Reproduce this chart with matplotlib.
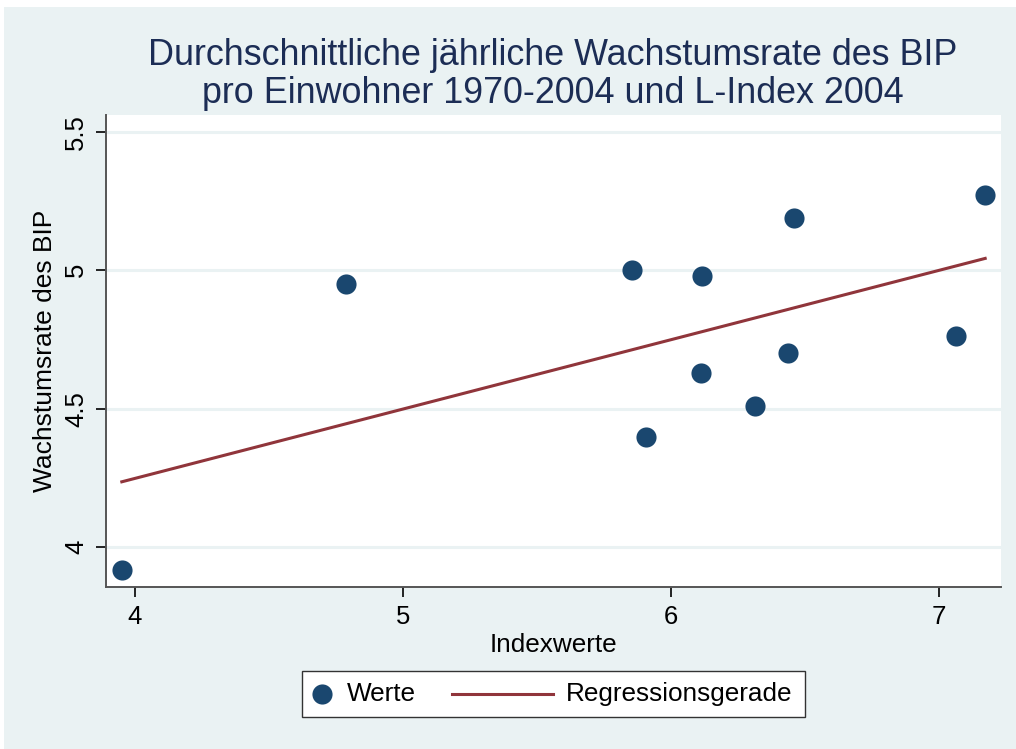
import matplotlib
matplotlib.use('Agg')
import matplotlib.pyplot as plt
from matplotlib.patches import Rectangle
from matplotlib.lines import Line2D

plt.rcParams['font.family'] = ['Liberation Sans', 'DejaVu Sans']

# data
index_x = [3.951, 4.787, 5.854, 5.907, 6.116, 6.112, 6.313, 6.437, 6.459, 7.063, 7.172]
growth_y = [3.917, 4.949, 5.000, 4.399, 4.978, 4.630, 4.511, 4.702, 5.188, 4.764, 5.271]
fit_x = [3.951, 7.172]
fit_y = [4.236, 5.043]
x_ticks = [4, 5, 6, 7]
y_ticks = [4, 4.5, 5, 5.5]
y_ticklabels = ['4', '4.5', '5', '5.5']

bg = '#EAF2F3'
navy = '#1A476F'
maroon = '#90353B'

W, H = 1016, 749
fig = plt.figure(figsize=(W / 100, H / 100), dpi=100)
fig.patch.set_facecolor('white')
fig.patches.append(Rectangle((4 / W, 0), 1, 1 - 7 / H, transform=fig.transFigure,
                             facecolor=bg, edgecolor='none', zorder=-10))


def fx(px):
    return px / W


def fy(py):
    return 1 - py / H


# axes box in pixels: left 106, right 1001, top 115, bottom 587
ax = fig.add_axes([fx(106), fy(587), (1001 - 106) / W, (587 - 115) / H])
ax.set_facecolor('white')

ax.set_xlim(3.892, 7.231)
ax.set_ylim(3.856, 5.561)

for yt in y_ticks:
    ax.axhline(yt, color=bg, lw=2.2, zorder=0)

ax.scatter(index_x, growth_y, s=210, color=navy, zorder=3, linewidths=0)
ax.plot(fit_x, fit_y, color=maroon, lw=2.2, zorder=2)

for side in ['top', 'right']:
    ax.spines[side].set_visible(False)
for side in ['left', 'bottom']:
    ax.spines[side].set_color('#555555')
    ax.spines[side].set_linewidth(1.4)

ax.set_xticks(x_ticks)
ax.set_yticks(y_ticks)
ax.set_yticklabels(y_ticklabels, rotation=90, va='center')
ax.tick_params(axis='both', length=7, width=1.2, color='black', labelsize=18.5, pad=6)

ax.set_xlabel('Indexwerte', fontsize=18.8, labelpad=3)
ax.set_ylabel('Wachstumsrate des BIP', fontsize=19, labelpad=5)

fig.text(fx(553), fy(74.5),
         'Durchschnittliche jährliche Wachstumsrate des BIP\npro Einwohner 1970-2004 und L-Index 2004',
         ha='center', va='center', fontsize=25.8, color='#1C2D55', linespacing=1.1)

# legend box drawn by hand so the two keys get their own widths
fig.patches.append(Rectangle((fx(302), fy(717)), (805 - 302) / W, (717 - 671) / H,
                             transform=fig.transFigure, facecolor='white',
                             edgecolor='#333333', lw=1.0))
ly = fy(694)
fig.lines.append(Line2D([fx(322)], [ly], transform=fig.transFigure, marker='o',
                        markersize=14.5, color=navy, markeredgewidth=0, linestyle='none'))
fig.text(fx(347), ly, 'Werte', ha='left', va='center', fontsize=18.8)
fig.lines.append(Line2D([fx(452), fx(553)], [ly, ly], transform=fig.transFigure,
                        color=maroon, lw=2.2))
fig.text(fx(566), ly, 'Regressionsgerade', ha='left', va='center', fontsize=18.8)

plt.savefig('out.png', dpi=100, facecolor=fig.get_facecolor())
